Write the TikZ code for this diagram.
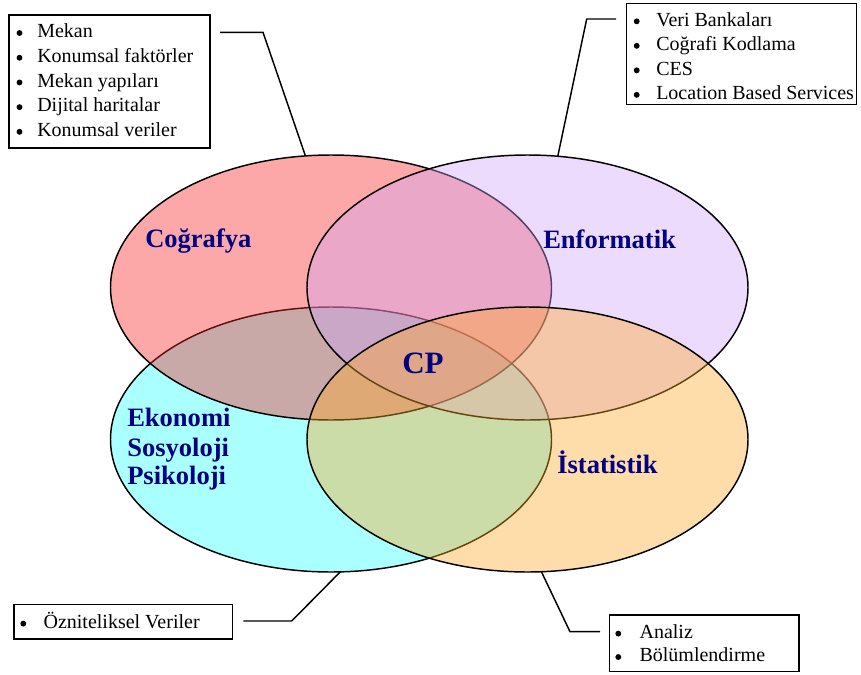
\documentclass[tikz,border=0pt]{standalone}
\usepackage{fontspec}
\setmainfont{Liberation Serif}
\usetikzlibrary{shapes.geometric}
\definecolor{navyblue}{RGB}{0,0,128}
\definecolor{cyanbase}{RGB}{42,255,255}
\definecolor{redbase}{RGB}{248,38,38}
\definecolor{purplebase}{RGB}{207,165,247}
\definecolor{orangebase}{RGB}{255,170,42}
\tikzset{
  venn/.style={ellipse, draw=black, line width=1.1pt, fill opacity=0.4,
    minimum width=330.75pt, minimum height=198.75pt, inner sep=0pt, outer sep=0pt},
  lbl/.style={text=navyblue, font=\fontsize{19.9}{22}\selectfont\bfseries, anchor=base west, inner sep=0pt},
  biglbl/.style={lbl, font=\fontsize{23.3}{26}\selectfont\bfseries},
  listbox/.style={draw=black, line width=1.1pt, fill=white, inner sep=0pt, outer sep=0pt, anchor=north west},
  itm/.style={anchor=base west, inner sep=0pt, font=\fontsize{15}{18}\selectfont},
  bul/.style={circle, fill=black, inner sep=0pt, minimum size=4.4pt, yshift=3.5pt},
  conn/.style={draw=black, line width=1.1pt},
}
\begin{document}
\begin{tikzpicture}[x=0.75pt,y=-0.75pt]
\useasboundingbox (0,0) rectangle (861,675);
% ellipses
\node[venn, fill=cyanbase] (eko) at (331,439.5) {};
\node[venn, fill=redbase] (geo) at (331,287.5) {};
\node[venn, fill=purplebase] (inf) at (527.5,287.5) {};
\node[venn, fill=orangebase] (ist) at (527.5,439.5) {};
% labels
\node[lbl] (lgeo) at (145,247) {Coğrafya};
\node[lbl] (linf) at (543,248) {Enformatik};
\node[biglbl] (lcp) at (402,373) {CP};
\node[lbl] (leko1) at (127,426) {Ekonomi};
\node[lbl] (leko2) at (127,456) {Sosyoloji};
\node[lbl] (leko3) at (127,484) {Psikoloji};
\node[lbl] (list) at (557,473) {İstatistik};
% box 1
\node[listbox, minimum width=150.75pt, minimum height=99.75pt] (box1) at (9,15) {};
\foreach \t [count=\i from 0] in {Mekan, Konumsal faktörler, Mekan yapıları, Dijital haritalar, Konumsal veriler}{
  \node[bul] (b1b\i) at (19.5,37.7+24.7*\i) {};
  \node[itm] (b1t\i) at (37,37.7+24.7*\i) {\t};
}
% box 2
\node[listbox, minimum width=172.5pt, minimum height=75.75pt] (box2) at (626.7,3.3) {};
\foreach \t [count=\i from 0] in {Veri Bankaları, Coğrafi Kodlama, CES, Location Based Services}{
  \node[bul] (b2b\i) at (636.7,26+24.5*\i) {};
  \node[itm] (b2t\i) at (656,26+24.5*\i) {\t};
}
% box 3
\node[listbox, minimum width=164pt, minimum height=26pt] (box3) at (14,604.3) {};
\node[bul] (b3b0) at (23.3,628.3) {};
\node[itm] (b3t0) at (43.3,628.3) {Özniteliksel Veriler};
% box 4
\node[listbox, minimum width=142.2pt, minimum height=42.5pt] (box4) at (609.3,615) {};
\node[bul] (b4b0) at (618.3,638.3) {};
\node[itm] (b4t0) at (639.3,638.3) {Analiz};
\node[bul] (b4b1) at (618.3,661.7) {};
\node[itm] (b4t1) at (639.3,661.7) {Bölümlendirme};
% connectors
\coordinate (c1a) at (220,32.3);
\coordinate (c1b) at (263,32.3);
\coordinate (c2a) at (616,19);
\coordinate (c2b) at (586.7,19);
\coordinate (c3a) at (243.3,621);
\coordinate (c3b) at (291.7,621);
\coordinate (c4a) at (600,631.7);
\coordinate (c4b) at (570,631.7);
\draw[conn] (c1a) -- (c1b) -- (geo.101.2);
\draw[conn] (c2a) -- (c2b) -- (inf.77.4);
\draw[conn] (c3a) -- (c3b) -- (eko.274.6);
\draw[conn] (c4a) -- (c4b) -- (ist.276.1);
\end{tikzpicture}
\end{document}
